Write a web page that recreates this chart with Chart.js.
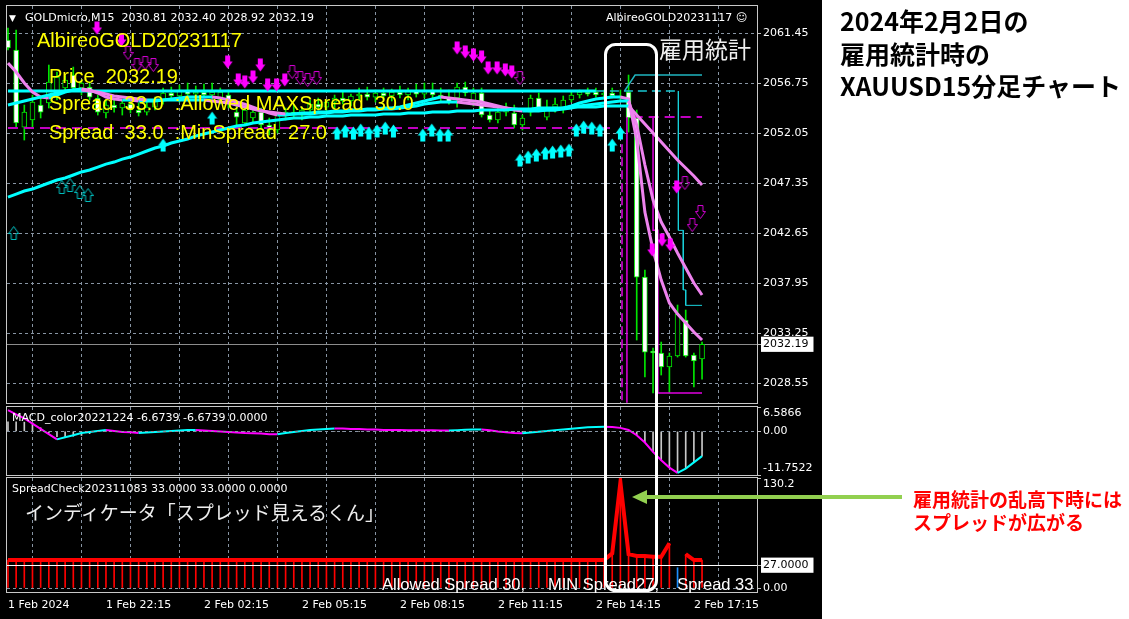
<!DOCTYPE html>
<html lang="ja">
<head>
<meta charset="utf-8">
<title>XAUUSD M15 雇用統計</title>
<script src="https://cdn.jsdelivr.net/npm/chart.js@4.4.1/dist/chart.umd.min.js"></script>
<style>
  html, body { margin: 0; padding: 0; background: #fff; }
  #page { position: relative; width: 1129px; height: 619px; overflow: hidden; background: #fff; }
  #board { position: absolute; left: 0; top: 0; width: 822px; height: 619px; background: #000; }
  #board canvas { position: absolute; left: 0; }
  #mainChart { top: 0; }
  #macdChart { top: 395px; }
  #spreadChart { top: 466px; }
  .t { position: absolute; white-space: pre; }
  .info { font: 11px/11px "DejaVu Sans"; color: #fff; }
  .yellow { font: 20px/20px "Liberation Sans"; color: #ffff00; }
  .jp { font-family: "Noto Sans CJK JP"; }
  #marks { position: absolute; left: 0; top: 0; pointer-events: none; }
</style>
</head>
<body>
<div id="page">
  <div id="board">
    <canvas id="mainChart" width="822" height="406"></canvas>
    <canvas id="macdChart" width="822" height="85"></canvas>
    <canvas id="spreadChart" width="822" height="153"></canvas>
  </div>

  <div class="t info" style="left:9px;top:13px;font-size:9px">▼</div>
  <div class="t info" style="left:25px;top:12px">GOLDmicro,M15  2030.81 2032.40 2028.92 2032.19</div>
  <div class="t info" style="left:606px;top:12px">AlbireoGOLD20231117 ☺</div>
  <div class="t yellow" style="left:37px;top:30px">AlbireoGOLD20231117</div>
  <div class="t yellow" style="left:49px;top:66px">Price  2032.19</div>
  <div class="t yellow" style="left:49px;top:93px">Spread  33.0  :Allowed MAXSpread  30.0</div>
  <div class="t yellow" style="left:49px;top:122px">Spread  33.0  :MinSpread  27.0</div>
  <div class="t info" style="left:12px;top:412px">MACD_color20221224 -6.6739 -6.6739 0.0000</div>
  <div class="t info" style="left:12px;top:483px">SpreadCheck202311083 33.0000 33.0000 0.0000</div>
  <div class="t jp" style="left:25px;top:502px;font-size:19px;line-height:19px;color:#eeeeee">インディケータ「スプレッド見えるくん」</div>
  <div class="t" style="left:382px;top:576px;font:16.5px/16.5px 'Liberation Sans';color:#fff">Allowed Spread 30,     MIN Spread27,    Spread 33</div>
  <div class="t jp" style="left:659px;top:37px;font-size:23px;line-height:23px;color:#f0f0f0">雇用統計</div>

  <svg id="marks" width="1129" height="619">
    <rect x="605.5" y="44.5" width="51" height="546" rx="10" ry="10" fill="none" stroke="#fff" stroke-width="3"/>
    <line x1="645" y1="497" x2="902" y2="497" stroke="#92d050" stroke-width="4"/>
    <polygon points="632,497 647,490 647,504" fill="#92d050"/>
  </svg>

  <div class="t jp" style="left:840px;top:4px;font-size:25px;line-height:32.5px;font-weight:bold;color:#000">2024年2月2日の
雇用統計時の
XAUUSD15分足チャート</div>
  <div class="t jp" style="left:913px;top:487px;font-size:19px;line-height:23px;font-weight:bold;color:#ff0000">雇用統計の乱高下時には
スプレッドが広がる</div>
</div>

<script>
// M15 bars, bar 0 = 1 Feb 19:15, last bar = 2 Feb 17:30
const timeLabels = ["1 Feb 2024", "1 Feb 22:15", "2 Feb 02:15", "2 Feb 05:15", "2 Feb 08:15", "2 Feb 11:15", "2 Feb 14:15", "2 Feb 17:15"];
const barsPerLabel = 12;
const barsPerGrid = 6;

const opens = [
  2060.79, 2059.85, 2052.61, 2053.27, 2054.68, 2054.87, 2055.62, 2056.28, 2057.50, 2056.28,
  2056.37, 2055.34, 2053.93, 2054.68, 2054.40, 2054.77, 2054.21, 2054.02, 2054.49, 2055.15,
  2055.81, 2055.53, 2056.09, 2055.71, 2055.90, 2055.62, 2055.15, 2055.62, 2054.02, 2052.99,
  2053.46, 2054.02, 2052.80, 2052.33, 2053.74, 2054.02, 2053.74, 2054.21, 2054.77, 2054.49,
  2054.96, 2055.34, 2055.06, 2055.53, 2055.71, 2055.43, 2055.81, 2055.53, 2055.90, 2055.62,
  2056.00, 2055.71, 2056.09, 2055.62, 2055.43, 2055.34, 2056.37, 2054.96, 2055.81, 2053.74,
  2053.27, 2054.02, 2053.93, 2052.80, 2054.02, 2055.34, 2053.55, 2054.49, 2054.21, 2055.15,
  2055.62, 2055.90, 2055.90, 2055.62, 2055.81, 2055.53, 2055.90, 2053.46, 2038.51, 2031.56,
  2031.37, 2030.05, 2031.09, 2034.47, 2031.18, 2030.81
];
const highs = [
  2061.92, 2061.73, 2054.68, 2055.62, 2055.43, 2058.44, 2057.78, 2057.41, 2058.25, 2057.03,
  2056.84, 2055.62, 2055.15, 2055.34, 2055.15, 2055.34, 2054.87, 2054.96, 2055.43, 2056.28,
  2056.37, 2056.56, 2056.75, 2056.47, 2056.65, 2056.75, 2056.28, 2056.09, 2054.68, 2054.68,
  2054.40, 2054.40, 2053.46, 2054.02, 2054.40, 2054.68, 2054.49, 2055.15, 2055.34, 2055.15,
  2055.62, 2055.90, 2055.71, 2056.28, 2056.37, 2056.09, 2056.28, 2056.18, 2056.47, 2056.28,
  2056.65, 2056.75, 2056.75, 2056.28, 2056.09, 2056.75, 2056.84, 2056.28, 2056.28, 2054.21,
  2054.40, 2054.87, 2054.68, 2053.74, 2055.62, 2055.81, 2055.15, 2055.34, 2055.53, 2055.90,
  2056.09, 2056.28, 2056.28, 2056.09, 2056.28, 2056.09, 2057.50, 2054.21, 2039.17, 2031.84,
  2032.40, 2031.37, 2035.88, 2035.41, 2031.37, 2032.40
];
const lows = [
  2059.85, 2052.52, 2051.39, 2052.52, 2053.46, 2054.40, 2055.15, 2055.90, 2056.09, 2055.62,
  2055.15, 2053.74, 2053.46, 2054.02, 2053.74, 2053.93, 2053.65, 2053.74, 2054.21, 2054.77,
  2055.15, 2054.96, 2055.43, 2055.15, 2055.34, 2054.96, 2054.77, 2054.40, 2052.80, 2052.80,
  2053.08, 2052.52, 2051.86, 2052.05, 2053.27, 2053.46, 2053.27, 2053.83, 2054.21, 2054.02,
  2054.40, 2054.77, 2054.59, 2055.15, 2055.15, 2054.96, 2055.24, 2055.06, 2055.34, 2055.15,
  2055.43, 2055.34, 2055.34, 2054.96, 2054.77, 2054.49, 2055.53, 2054.59, 2053.55, 2053.08,
  2052.99, 2053.65, 2052.52, 2052.33, 2053.65, 2054.21, 2053.27, 2054.02, 2053.93, 2054.96,
  2055.34, 2055.53, 2055.43, 2055.24, 2055.34, 2055.15, 2052.14, 2032.59, 2029.11, 2027.61,
  2029.30, 2027.61, 2030.99, 2030.99, 2028.17, 2028.92
];
const closes = [
  2060.04, 2052.99, 2054.02, 2054.96, 2054.02, 2056.84, 2057.31, 2057.03, 2056.28, 2056.75,
  2055.43, 2054.02, 2054.68, 2054.40, 2054.87, 2054.21, 2053.93, 2054.49, 2055.15, 2055.81,
  2055.53, 2056.09, 2055.71, 2055.90, 2055.62, 2055.90, 2055.90, 2054.87, 2053.55, 2054.21,
  2054.02, 2052.80, 2052.33, 2053.74, 2054.02, 2053.74, 2054.21, 2054.77, 2054.49, 2054.96,
  2055.34, 2055.06, 2055.53, 2055.71, 2055.43, 2055.81, 2055.53, 2055.90, 2055.62, 2056.00,
  2055.71, 2056.09, 2055.62, 2055.43, 2054.96, 2056.37, 2055.81, 2055.81, 2053.74, 2053.27,
  2054.02, 2054.40, 2052.80, 2053.46, 2055.34, 2054.40, 2054.49, 2054.77, 2055.15, 2055.62,
  2055.90, 2055.71, 2055.62, 2055.81, 2055.53, 2055.43, 2053.46, 2038.51, 2031.46, 2031.37,
  2030.05, 2031.09, 2035.03, 2031.09, 2030.62, 2032.19
];

const fastMA = [
  2058.63, 2057.78, 2056.75, 2055.90, 2055.43, 2055.34, 2055.62, 2055.90, 2056.09, 2056.18,
  2056.09, 2055.81, 2055.43, 2055.24, 2055.15, 2055.15, 2055.06, 2055.06, 2055.06, 2055.15,
  2055.24, 2055.34, 2055.43, 2055.43, 2055.43, 2055.43, 2055.34, 2055.15, 2054.96, 2054.77,
  2054.49, 2054.21, 2053.93, 2053.74, 2053.74, 2053.83, 2053.93, 2053.93, 2054.02, 2054.02,
  2054.12, 2054.12, 2054.21, 2054.21, 2054.30, 2054.30, 2054.40, 2054.40, 2054.49, 2054.68,
  2054.87, 2055.06, 2055.24, 2055.43, 2055.34, 2055.24, 2055.15, 2055.06, 2054.96, 2054.77,
  2054.59, 2054.40, 2054.21, 2054.12, 2054.12, 2054.12, 2054.21, 2054.21, 2054.40, 2054.59,
  2054.87, 2055.06, 2055.24, 2055.34, 2055.43, 2055.43, 2055.24, 2051.39, 2044.62, 2041.05,
  2038.23, 2036.07, 2035.03, 2034.19, 2033.34, 2032.59
];
const midMA = [
  2054.68, 2054.87, 2055.06, 2055.24, 2055.43, 2055.62, 2055.81, 2056.00, 2056.09, 2056.09,
  2056.00, 2055.90, 2055.71, 2055.53, 2055.43, 2055.34, 2055.24, 2055.15, 2055.15, 2055.15,
  2055.15, 2055.15, 2055.15, 2055.15, 2055.15, 2055.06, 2054.96, 2054.87, 2054.68, 2054.49,
  2054.30, 2054.12, 2054.02, 2053.93, 2053.83, 2053.83, 2053.83, 2053.83, 2053.93, 2053.93,
  2054.02, 2054.02, 2054.12, 2054.12, 2054.21, 2054.21, 2054.30, 2054.30, 2054.40, 2054.49,
  2054.59, 2054.77, 2054.87, 2054.96, 2054.96, 2054.96, 2054.87, 2054.77, 2054.68, 2054.59,
  2054.49, 2054.40, 2054.30, 2054.21, 2054.21, 2054.21, 2054.21, 2054.21, 2054.30, 2054.40,
  2054.59, 2054.68, 2054.77, 2054.87, 2054.96, 2055.06, 2055.06, 2052.80, 2049.04, 2045.75,
  2043.68, 2042.27, 2040.77, 2039.36, 2037.95, 2036.82
];
const slowMA = [
  2046.03, 2046.31, 2046.60, 2046.78, 2047.07, 2047.35, 2047.63, 2047.82, 2048.10, 2048.39,
  2048.57, 2048.85, 2049.13, 2049.32, 2049.60, 2049.79, 2050.07, 2050.36, 2050.64, 2050.83,
  2051.11, 2051.30, 2051.48, 2051.77, 2051.95, 2052.14, 2052.33, 2052.52, 2052.71, 2052.80,
  2052.99, 2053.08, 2053.18, 2053.27, 2053.36, 2053.46, 2053.46, 2053.55, 2053.55, 2053.65,
  2053.65, 2053.65, 2053.74, 2053.74, 2053.74, 2053.74, 2053.83, 2053.83, 2053.83, 2053.93,
  2053.93, 2053.93, 2054.02, 2054.02, 2054.02, 2054.12, 2054.12, 2054.12, 2054.21, 2054.21,
  2054.21, 2054.21, 2054.30, 2054.30, 2054.30, 2054.40, 2054.40, 2054.40, 2054.40, 2054.49,
  2054.49, 2054.49, 2054.49, 2054.59, 2054.59, 2054.59, 2054.59, 2053.74, 2052.89, 2052.05,
  2051.20, 2050.36, 2049.51, 2048.76, 2048.01, 2047.16
];

// [bar, price] points of the level / stop lines
const cyanLevel = [[0, 2056.00], [72, 2056.00]];
const cyanLevelTail = [[72, 2056.00], [82, 2056.00]];
const cyanUpper = [[75.5, 2056.00], [76.8, 2057.50], [85, 2057.50]];
const cyanStop = [[82.1, 2056.00], [82.1, 2042.90], [82.7, 2042.90], [82.7, 2037.30], [83, 2037.30], [83, 2035.85], [85, 2035.85]];
const magentaLevel = [[0, 2052.52], [74, 2052.52]];
const magentaUpper = [[76.5, 2053.55], [85, 2053.55]];
const magentaStopA = [[75.2, 2051.00], [75.2, 2026.70]];
const magentaStopB = [[75.8, 2053.55], [75.8, 2026.70]];
const magentaStopC = [[79.0, 2053.55], [79.0, 2042.90], [79.6, 2042.90], [79.6, 2027.61], [85, 2027.61]];

// signal arrows [bar, price]
const sellArrows = [
  [10.9, 2061.92], [13.9, 2060.79], [26.9, 2058.72], [28.2, 2057.03], [29.0, 2056.84], [30.0, 2057.31],
  [30.9, 2058.44], [31.8, 2056.56], [32.9, 2056.56], [33.9, 2057.03], [55.0, 2060.04], [56.0, 2059.66],
  [57.0, 2059.38], [58.0, 2059.19], [58.8, 2058.16], [59.9, 2058.16], [60.9, 2057.97], [61.7, 2057.78],
  [78.9, 2041.05], [80.1, 2041.99], [81.1, 2041.52], [81.9, 2046.97]
];
const sellArrowsHollow = [
  [14.7, 2059.57], [15.8, 2058.44], [16.8, 2058.63], [17.8, 2058.44], [34.8, 2057.78], [35.8, 2057.22],
  [36.7, 2057.03], [37.8, 2057.22], [62.7, 2057.22], [82.9, 2047.35], [83.8, 2043.40], [84.8, 2044.62]
];
const buyArrows = [
  [19.0, 2050.92], [25.0, 2053.46], [40.3, 2052.05], [41.3, 2052.24], [42.3, 2052.05], [43.2, 2052.33],
  [44.2, 2052.05], [45.2, 2052.24], [46.2, 2052.52], [47.2, 2052.24], [50.8, 2051.86], [51.9, 2052.33],
  [52.9, 2051.86], [53.9, 2051.86], [62.7, 2049.51], [63.7, 2049.79], [64.7, 2049.98], [65.8, 2050.17],
  [66.7, 2050.26], [67.7, 2050.36], [68.7, 2050.45], [69.6, 2052.33], [70.5, 2052.61], [71.5, 2052.52],
  [72.5, 2052.33], [74.0, 2050.92], [75.0, 2052.05]
];
const buyArrowsHollow = [[0.7, 2042.65], [6.6, 2046.97], [7.6, 2047.16], [8.8, 2046.50], [9.8, 2046.22]];

const priceTicks = [2028.55, 2033.25, 2037.95, 2042.65, 2047.35, 2052.05, 2056.75, 2061.45];
const lastClose = 2032.19;

const macdLine = [
  5.75, 4.62, 3.50, 2.09, 0.68, -0.73, -2.14, -1.58, -1.02, -0.45,
  -0.17, 0.11, 0.39, 0.11, -0.17, -0.20, -0.45, -0.31, -0.17, -0.03,
  0.11, 0.25, 0.39, 0.40, 0.25, 0.11, -0.03, -0.17, -0.31, -0.45,
  -0.50, -0.59, -0.73, -0.75, -0.45, -0.17, 0.11, 0.39, 0.54, 0.68,
  0.82, 0.80, 0.68, 0.66, 0.54, 0.52, 0.39, 0.37, 0.36, 0.34,
  0.32, 0.30, 0.29, 0.28, 0.27, 0.35, 0.45, 0.52, 0.55, 0.30,
  0.00, -0.25, -0.40, -0.47, -0.30, -0.10, 0.10, 0.35, 0.55, 0.75,
  0.95, 1.10, 1.22, 1.26, 1.20, 0.96, 0.39, -1.02, -2.99, -5.53,
  -7.78, -9.76, -11.17, -10.04, -8.35, -6.67
];
const macdHist = [
  2.60, 2.60, 2.50, 2.30, 1.00, -0.40, -1.40, -1.40, -1.30, -1.10,
  -0.60, 0, 0, 0, 0, 0, 0, 0, 0, 0,
  0, 0, 0, 0, 0, 0, 0, 0, 0, 0,
  0, 0, 0, 0, 0, 0, 0, 0, 0, 0,
  0, 0, 0, 0, 0, 0, 0, 0, 0, 0,
  0, 0, 0, 0, 0, 0, 0, 0, 0, 0,
  0, 0, 0, 0, 0, 0, 0, 0, 0, 0,
  0, 0, 0, 0, 0, 0, 0, -1.00, -2.99, -5.53,
  -7.78, -9.76, -11.17, -10.04, -8.35, -6.67
];
const macdTicks = [6.5866, 0, -11.7522];
const macdTickLabels = ["6.5866", "0.00", "-11.7522"];

const spreadValues = [
  33, 33, 33, 33, 33, 33, 33, 33, 33, 33,
  33, 33, 33, 33, 33, 33, 33, 33, 33, 33,
  33, 33, 33, 33, 33, 33, 33, 33, 33, 33,
  33, 33, 33, 33, 33, 33, 33, 33, 33, 33,
  33, 33, 33, 33, 33, 33, 33, 33, 33, 33,
  33, 33, 33, 33, 33, 33, 33, 33, 33, 33,
  33, 33, 33, 33, 33, 33, 33, 33, 33, 33,
  33, 33, 33, 33, 41, 125, 40, 38, 38, 37,
  37, 53, 24, 40, 33, 33
];
const minSpread = 27;
const spreadTicks = [130.2, 27, 0];
const spreadTickLabels = ["130.2", "27.0000", "0.00"];

// ---- helpers ----
const tickFont = { family: "DejaVu Sans", size: 11 };
const gridColor = "#8794a3";
const candleGreen = "#00e600";
const pink = "#ee82ee";
const cyan = "#00ffff";
const noLine = "rgba(0,0,0,0)";

const gridBars = [];
for (let b = 0; b <= 90; b += barsPerGrid) gridBars.push(b);

const toPoints = arr => arr.map((v, i) => ({ x: i, y: v }));
const pairs = arr => arr.map(p => ({ x: p[0], y: p[1] }));
const slopeColors = (up, down) => ({
  borderColor: ctx => ctx.p1.parsed.y >= ctx.p0.parsed.y ? up : down
});

// fixed axis sizes so the three windows line up like the terminal
function fixSize(prop, size) {
  return function (scale) {
    scale[prop] = size;
    scale.paddingTop = 0;
    scale.paddingBottom = 0;
    scale.paddingLeft = 0;
    scale.paddingRight = 0;
  };
}

// MT4 keeps the top / bottom labels of a sub window inside the window
function edgeLabel(text, value, min, max) {
  if (value === max) return ["", text];
  if (value === min) return [text, ""];
  return text;
}

function arrowIcon(color, pointsUp, hollow) {
  const w = 11, h = 14;
  const c = document.createElement("canvas");
  c.width = w;
  c.height = h;
  const g = c.getContext("2d");
  const shape = [[3, 0.5], [8, 0.5], [8, 6.5], [10.5, 6.5], [5.5, 13.5], [0.5, 6.5], [3, 6.5]];
  g.beginPath();
  shape.forEach((p, k) => {
    const y = pointsUp ? h - p[1] : p[1];
    if (k === 0) g.moveTo(p[0], y); else g.lineTo(p[0], y);
  });
  g.closePath();
  if (hollow) {
    g.strokeStyle = color;
    g.lineWidth = 1;
    g.stroke();
  } else {
    g.fillStyle = color;
    g.fill();
  }
  return c;
}

const panelFrame = {
  id: "panelFrame",
  afterDraw(chart) {
    const { ctx, chartArea: a } = chart;
    ctx.save();
    ctx.strokeStyle = "#c8c8c8";
    ctx.lineWidth = 1;
    ctx.strokeRect(a.left - 0.5, a.top - 0.5, a.width + 1, a.height + 1);
    ctx.restore();
  }
};

function xAxis(showLabels) {
  return {
    type: "linear",
    min: -0.12,
    max: 91.73,
    offset: false,
    afterBuildTicks: scale => { scale.ticks = gridBars.map(v => ({ value: v })); },
    afterFit: fixSize("height", showLabels ? 27 : 0),
    grid: {
      color: ctx => ctx.tick && ctx.tick.value === 0 ? noLine : gridColor,
      drawTicks: false
    },
    border: { display: false, dash: [3, 3] },
    ticks: {
      display: showLabels,
      autoSkip: false,
      maxRotation: 0,
      align: "start",
      padding: 7,
      color: "#fff",
      font: tickFont,
      callback: v => v % barsPerLabel === 0 ? timeLabels[v / barsPerLabel] : ""
    }
  };
}

const baseOptions = {
  responsive: false,
  devicePixelRatio: 1,
  animation: false,
  events: [],
  plugins: { legend: { display: false }, tooltip: { enabled: false } }
};

function lineSet(data, color, width, extra) {
  return Object.assign({
    type: "line",
    data: data,
    borderColor: color,
    borderWidth: width,
    pointRadius: 0,
    tension: 0,
    order: 5
  }, extra || {});
}

function arrowSet(data, icon) {
  return {
    type: "line",
    data: pairs(data),
    showLine: false,
    pointStyle: icon,
    pointRadius: 6,
    order: 1
  };
}

// ---- main price window ----
new Chart(document.getElementById("mainChart"), {
  type: "bar",
  data: {
    datasets: [
      {
        data: highs.map((h, i) => ({ x: i, y: [lows[i], h] })),
        backgroundColor: candleGreen,
        barThickness: 1,
        grouped: false,
        order: 10
      },
      {
        data: opens.map((o, i) => ({ x: i, y: [o, closes[i]] })),
        backgroundColor: opens.map((o, i) => closes[i] < o ? "#ffffff" : "#000000"),
        borderColor: candleGreen,
        borderWidth: 1,
        borderSkipped: false,
        barThickness: 5,
        minBarLength: 1,
        grouped: false,
        order: 9
      },
      lineSet(pairs(cyanLevel), cyan, 3),
      lineSet(pairs(cyanLevelTail), "#19c8d2", 1.5, { borderDash: [9, 5] }),
      lineSet(pairs(cyanUpper), "#1fb5c0", 1.5),
      lineSet(pairs(cyanStop), "#19d2dc", 1),
      lineSet(pairs(magentaLevel), "#c000c0", 2, { borderDash: [10, 6] }),
      lineSet(pairs(magentaUpper), "#c000c0", 2, { borderDash: [10, 6] }),
      lineSet(pairs(magentaStopA), "#e000e0", 1.5, { borderDash: [9, 4] }),
      lineSet(pairs(magentaStopB), "#e000e0", 1.5),
      lineSet(pairs(magentaStopC), "#e000e0", 1.5),
      lineSet(toPoints(slowMA), cyan, 3, { segment: slopeColors(cyan, pink), order: 3 }),
      lineSet(toPoints(midMA), cyan, 3, { segment: slopeColors(cyan, pink), order: 3 }),
      lineSet(toPoints(fastMA), cyan, 3, { segment: slopeColors(cyan, pink), order: 3 }),
      arrowSet(sellArrows, arrowIcon("#ff00ff", false, false)),
      arrowSet(sellArrowsHollow, arrowIcon("#d000d0", false, true)),
      arrowSet(buyArrows, arrowIcon("#00ffff", true, false)),
      arrowSet(buyArrowsHollow, arrowIcon("#00c8c8", true, true))
    ]
  },
  options: Object.assign({}, baseOptions, {
    layout: { autoPadding: false, padding: { left: 7, top: 6, right: 0, bottom: 3 } },
    scales: {
      x: xAxis(false),
      y: {
        position: "right",
        min: 2026.67,
        max: 2063.99,
        afterBuildTicks: scale => {
          scale.ticks = priceTicks.concat(lastClose).sort((a, b) => a - b).map(v => ({ value: v }));
        },
        afterFit: fixSize("width", 65),
        grid: {
          color: ctx => ctx.tick && ctx.tick.value === lastClose ? "#8c8c8c" : gridColor,
          tickColor: "#c0c0c0",
          tickLength: 4
        },
        border: {
          display: false,
          dash: ctx => ctx.tick && ctx.tick.value === lastClose ? [] : [3, 3]
        },
        ticks: {
          autoSkip: false,
          padding: 2,
          font: tickFont,
          color: ctx => ctx.tick && ctx.tick.value === lastClose ? "#000" : "#fff",
          showLabelBackdrop: ctx => !!(ctx.tick && ctx.tick.value === lastClose),
          backdropColor: "#fff",
          backdropPadding: { top: 1, bottom: 1, left: 2, right: 5 },
          callback: v => v.toFixed(2)
        }
      }
    }
  }),
  plugins: [panelFrame]
});

// ---- MACD window ----
new Chart(document.getElementById("macdChart"), {
  type: "bar",
  data: {
    datasets: [
      {
        data: toPoints(macdHist),
        backgroundColor: "#c8c8c8",
        barThickness: 1,
        grouped: false,
        order: 5
      },
      lineSet(toPoints(macdLine), cyan, 2, { segment: slopeColors(cyan, "#ff00ff"), order: 1 })
    ]
  },
  options: Object.assign({}, baseOptions, {
    layout: { autoPadding: false, padding: { left: 7, top: 12, right: 0, bottom: 5 } },
    scales: {
      x: xAxis(false),
      y: {
        position: "right",
        min: -11.7522,
        max: 6.5866,
        afterBuildTicks: scale => { scale.ticks = macdTicks.map(v => ({ value: v })); },
        afterFit: fixSize("width", 65),
        grid: {
          color: ctx => ctx.tick && ctx.tick.value === 0 ? gridColor : noLine,
          tickColor: "#c0c0c0",
          tickLength: 4,
          z: 1
        },
        border: { display: false, dash: [3, 3] },
        ticks: {
          autoSkip: false,
          padding: 2,
          font: tickFont,
          color: "#fff",
          callback: v => edgeLabel(macdTickLabels[macdTicks.indexOf(v)], v, -11.7522, 6.5866)
        }
      }
    }
  }),
  plugins: [panelFrame]
});

// ---- spread window ----
new Chart(document.getElementById("spreadChart"), {
  type: "bar",
  data: {
    datasets: [
      {
        data: toPoints(spreadValues),
        backgroundColor: spreadValues.map(v => v >= minSpread ? "#ff0000" : "#1e90ff"),
        barThickness: 1,
        grouped: false,
        order: 5
      },
      lineSet(toPoints(spreadValues.map(v => v >= minSpread ? v : null)), "#ff0000", 4, { order: 1 })
    ]
  },
  options: Object.assign({}, baseOptions, {
    layout: { autoPadding: false, padding: { left: 7, top: 12, right: 0, bottom: 0 } },
    scales: {
      x: xAxis(true),
      y: {
        position: "right",
        min: -4.73,
        max: 130.2,
        afterBuildTicks: scale => { scale.ticks = spreadTicks.map(v => ({ value: v })); },
        afterFit: fixSize("width", 65),
        grid: {
          color: ctx => {
            if (!ctx.tick) return noLine;
            if (ctx.tick.value === minSpread) return "#ffffff";
            return ctx.tick.value === 0 ? gridColor : noLine;
          },
          tickColor: "#c0c0c0",
          tickLength: 4,
          z: 1
        },
        border: {
          display: false,
          dash: ctx => ctx.tick && ctx.tick.value === minSpread ? [] : [3, 3]
        },
        ticks: {
          autoSkip: false,
          padding: 2,
          font: tickFont,
          color: ctx => ctx.tick && ctx.tick.value === minSpread ? "#000" : "#fff",
          showLabelBackdrop: ctx => !!(ctx.tick && ctx.tick.value === minSpread),
          backdropColor: "#fff",
          backdropPadding: { top: 1, bottom: 1, left: 2, right: 5 },
          callback: v => edgeLabel(spreadTickLabels[spreadTicks.indexOf(v)], v, -4.73, 130.2)
        }
      }
    }
  }),
  plugins: [panelFrame]
});
</script>
</body>
</html>
